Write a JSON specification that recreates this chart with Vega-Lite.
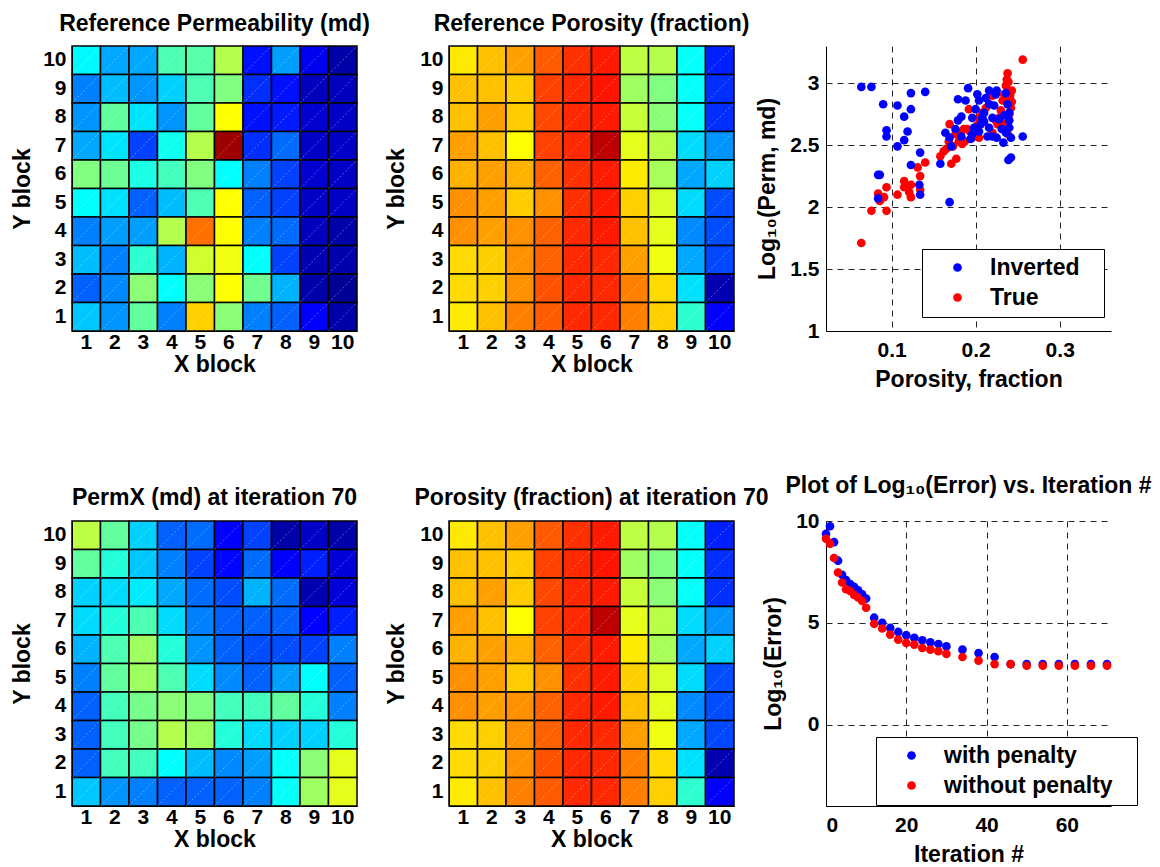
{
  "$schema": "https://vega.github.io/schema/vega-lite/v6.json",
  "background": "white",
  "padding": {"left": 11, "top": 13, "right": 0, "bottom": 0},
  "columns": 3,
  "bounds": "flush",
  "spacing": {"row": 190, "column": 92},
  "resolve": {"scale": {"color": "independent"}, "legend": {"color": "independent"}},
  "config": {
    "view": {"stroke": null},
    "font": "Liberation Sans",
    "title": {"font": "Liberation Sans", "fontSize": 23, "fontWeight": "bold", "color": "black", "offset": 9},
    "axis": {
      "labelFont": "Liberation Sans", "labelFontSize": 21, "labelFontWeight": "bold", "labelColor": "black",
      "titleFont": "Liberation Sans", "titleFontSize": 23, "titleFontWeight": "bold", "titleColor": "black",
      "ticks": false, "domain": true, "domainColor": "black", "domainWidth": 1
    },
    "legend": {
      "labelFont": "Liberation Sans", "labelFontSize": 23, "labelFontWeight": "bold", "labelColor": "black", "labelLimit": 400
    }
  },
  "datasets": {
    "permRef": [
      {"x":1,"y":10,"v":0.37},{"x":2,"y":10,"v":0.29},{"x":3,"y":10,"v":0.29},{"x":4,"y":10,"v":0.45},{"x":5,"y":10,"v":0.46},{"x":6,"y":10,"v":0.55},{"x":7,"y":10,"v":0.14},{"x":8,"y":10,"v":0.28},{"x":9,"y":10,"v":0.11},{"x":10,"y":10,"v":0.04},
      {"x":1,"y":9,"v":0.25},{"x":2,"y":9,"v":0.31},{"x":3,"y":9,"v":0.27},{"x":4,"y":9,"v":0.33},{"x":5,"y":9,"v":0.45},{"x":6,"y":9,"v":0.5},{"x":7,"y":9,"v":0.17},{"x":8,"y":9,"v":0.14},{"x":9,"y":9,"v":0.06},{"x":10,"y":9,"v":0.06},
      {"x":1,"y":8,"v":0.27},{"x":2,"y":8,"v":0.47},{"x":3,"y":8,"v":0.35},{"x":4,"y":8,"v":0.27},{"x":5,"y":8,"v":0.47},{"x":6,"y":8,"v":0.625},{"x":7,"y":8,"v":0.14},{"x":8,"y":8,"v":0.15},{"x":9,"y":8,"v":0.08},{"x":10,"y":8,"v":0.07},
      {"x":1,"y":7,"v":0.29},{"x":2,"y":7,"v":0.35},{"x":3,"y":7,"v":0.19},{"x":4,"y":7,"v":0.39},{"x":5,"y":7,"v":0.55},{"x":6,"y":7,"v":0.97},{"x":7,"y":7,"v":0.17},{"x":8,"y":7,"v":0.23},{"x":9,"y":7,"v":0.07},{"x":10,"y":7,"v":0.07},
      {"x":1,"y":6,"v":0.5},{"x":2,"y":6,"v":0.48},{"x":3,"y":6,"v":0.4},{"x":4,"y":6,"v":0.44},{"x":5,"y":6,"v":0.5},{"x":6,"y":6,"v":0.375},{"x":7,"y":6,"v":0.25},{"x":8,"y":6,"v":0.19},{"x":9,"y":6,"v":0.08},{"x":10,"y":6,"v":0.07},
      {"x":1,"y":5,"v":0.375},{"x":2,"y":5,"v":0.345},{"x":3,"y":5,"v":0.22},{"x":4,"y":5,"v":0.31},{"x":5,"y":5,"v":0.45},{"x":6,"y":5,"v":0.625},{"x":7,"y":5,"v":0.22},{"x":8,"y":5,"v":0.19},{"x":9,"y":5,"v":0.07},{"x":10,"y":5,"v":0.07},
      {"x":1,"y":4,"v":0.25},{"x":2,"y":4,"v":0.28},{"x":3,"y":4,"v":0.28},{"x":4,"y":4,"v":0.55},{"x":5,"y":4,"v":0.765},{"x":6,"y":4,"v":0.625},{"x":7,"y":4,"v":0.25},{"x":8,"y":4,"v":0.23},{"x":9,"y":4,"v":0.06},{"x":10,"y":4,"v":0.04},
      {"x":1,"y":3,"v":0.31},{"x":2,"y":3,"v":0.25},{"x":3,"y":3,"v":0.42},{"x":4,"y":3,"v":0.3},{"x":5,"y":3,"v":0.58},{"x":6,"y":3,"v":0.61},{"x":7,"y":3,"v":0.375},{"x":8,"y":3,"v":0.19},{"x":9,"y":3,"v":0.05},{"x":10,"y":3,"v":0.045},
      {"x":1,"y":2,"v":0.22},{"x":2,"y":2,"v":0.26},{"x":3,"y":2,"v":0.51},{"x":4,"y":2,"v":0.375},{"x":5,"y":2,"v":0.51},{"x":6,"y":2,"v":0.625},{"x":7,"y":2,"v":0.485},{"x":8,"y":2,"v":0.3},{"x":9,"y":2,"v":0.04},{"x":10,"y":2,"v":0.02},
      {"x":1,"y":1,"v":0.32},{"x":2,"y":1,"v":0.27},{"x":3,"y":1,"v":0.47},{"x":4,"y":1,"v":0.25},{"x":5,"y":1,"v":0.67},{"x":6,"y":1,"v":0.51},{"x":7,"y":1,"v":0.25},{"x":8,"y":1,"v":0.22},{"x":9,"y":1,"v":0.12},{"x":10,"y":1,"v":0.04}
    ],
    "por": [
      {"x":1,"y":10,"v":0.647},{"x":2,"y":10,"v":0.687},{"x":3,"y":10,"v":0.718},{"x":4,"y":10,"v":0.787},{"x":5,"y":10,"v":0.828},{"x":6,"y":10,"v":0.85},{"x":7,"y":10,"v":0.56},{"x":8,"y":10,"v":0.55},{"x":9,"y":10,"v":0.38},{"x":10,"y":10,"v":0.155},
      {"x":1,"y":9,"v":0.687},{"x":2,"y":9,"v":0.687},{"x":3,"y":9,"v":0.675},{"x":4,"y":9,"v":0.8125},{"x":5,"y":9,"v":0.836},{"x":6,"y":9,"v":0.855},{"x":7,"y":9,"v":0.53},{"x":8,"y":9,"v":0.5},{"x":9,"y":9,"v":0.38},{"x":10,"y":9,"v":0.17},
      {"x":1,"y":8,"v":0.687},{"x":2,"y":8,"v":0.718},{"x":3,"y":8,"v":0.675},{"x":4,"y":8,"v":0.805},{"x":5,"y":8,"v":0.836},{"x":6,"y":8,"v":0.85},{"x":7,"y":8,"v":0.57},{"x":8,"y":8,"v":0.51},{"x":9,"y":8,"v":0.38},{"x":10,"y":8,"v":0.17},
      {"x":1,"y":7,"v":0.718},{"x":2,"y":7,"v":0.687},{"x":3,"y":7,"v":0.625},{"x":4,"y":7,"v":0.8125},{"x":5,"y":7,"v":0.836},{"x":6,"y":7,"v":0.94},{"x":7,"y":7,"v":0.6},{"x":8,"y":7,"v":0.555},{"x":9,"y":7,"v":0.34},{"x":10,"y":7,"v":0.27},
      {"x":1,"y":6,"v":0.7},{"x":2,"y":6,"v":0.718},{"x":3,"y":6,"v":0.7},{"x":4,"y":6,"v":0.781},{"x":5,"y":6,"v":0.828},{"x":6,"y":6,"v":0.85},{"x":7,"y":6,"v":0.645},{"x":8,"y":6,"v":0.54},{"x":9,"y":6,"v":0.29},{"x":10,"y":6,"v":0.33},
      {"x":1,"y":5,"v":0.734},{"x":2,"y":5,"v":0.718},{"x":3,"y":5,"v":0.675},{"x":4,"y":5,"v":0.734},{"x":5,"y":5,"v":0.828},{"x":6,"y":5,"v":0.85},{"x":7,"y":5,"v":0.671},{"x":8,"y":5,"v":0.59},{"x":9,"y":5,"v":0.34},{"x":10,"y":5,"v":0.2},
      {"x":1,"y":4,"v":0.734},{"x":2,"y":4,"v":0.718},{"x":3,"y":4,"v":0.734},{"x":4,"y":4,"v":0.781},{"x":5,"y":4,"v":0.836},{"x":6,"y":4,"v":0.85},{"x":7,"y":4,"v":0.687},{"x":8,"y":4,"v":0.6},{"x":9,"y":4,"v":0.26},{"x":10,"y":4,"v":0.2},
      {"x":1,"y":3,"v":0.661},{"x":2,"y":3,"v":0.671},{"x":3,"y":3,"v":0.734},{"x":4,"y":3,"v":0.781},{"x":5,"y":3,"v":0.836},{"x":6,"y":3,"v":0.836},{"x":7,"y":3,"v":0.718},{"x":8,"y":3,"v":0.61},{"x":9,"y":3,"v":0.29},{"x":10,"y":3,"v":0.195},
      {"x":1,"y":2,"v":0.661},{"x":2,"y":2,"v":0.671},{"x":3,"y":2,"v":0.734},{"x":4,"y":2,"v":0.796},{"x":5,"y":2,"v":0.836},{"x":6,"y":2,"v":0.836},{"x":7,"y":2,"v":0.75},{"x":8,"y":2,"v":0.661},{"x":9,"y":2,"v":0.345},{"x":10,"y":2,"v":0.05},
      {"x":1,"y":1,"v":0.645},{"x":2,"y":1,"v":0.687},{"x":3,"y":1,"v":0.75},{"x":4,"y":1,"v":0.787},{"x":5,"y":1,"v":0.836},{"x":6,"y":1,"v":0.836},{"x":7,"y":1,"v":0.75},{"x":8,"y":1,"v":0.671},{"x":9,"y":1,"v":0.42},{"x":10,"y":1,"v":0.125}
    ],
    "perm70": [
      {"x":1,"y":10,"v":0.56},{"x":2,"y":10,"v":0.47},{"x":3,"y":10,"v":0.33},{"x":4,"y":10,"v":0.22},{"x":5,"y":10,"v":0.23},{"x":6,"y":10,"v":0.125},{"x":7,"y":10,"v":0.19},{"x":8,"y":10,"v":0.04},{"x":9,"y":10,"v":0.07},{"x":10,"y":10,"v":0.04},
      {"x":1,"y":9,"v":0.47},{"x":2,"y":9,"v":0.41},{"x":3,"y":9,"v":0.32},{"x":4,"y":9,"v":0.25},{"x":5,"y":9,"v":0.19},{"x":6,"y":9,"v":0.13},{"x":7,"y":9,"v":0.23},{"x":8,"y":9,"v":0.125},{"x":9,"y":9,"v":0.155},{"x":10,"y":9,"v":0.09},
      {"x":1,"y":8,"v":0.33},{"x":2,"y":8,"v":0.34},{"x":3,"y":8,"v":0.355},{"x":4,"y":8,"v":0.29},{"x":5,"y":8,"v":0.23},{"x":6,"y":8,"v":0.2},{"x":7,"y":8,"v":0.3},{"x":8,"y":8,"v":0.23},{"x":9,"y":8,"v":0.05},{"x":10,"y":8,"v":0.09},
      {"x":1,"y":7,"v":0.34},{"x":2,"y":7,"v":0.41},{"x":3,"y":7,"v":0.45},{"x":4,"y":7,"v":0.34},{"x":5,"y":7,"v":0.25},{"x":6,"y":7,"v":0.22},{"x":7,"y":7,"v":0.22},{"x":8,"y":7,"v":0.22},{"x":9,"y":7,"v":0.125},{"x":10,"y":7,"v":0.155},
      {"x":1,"y":6,"v":0.3},{"x":2,"y":6,"v":0.45},{"x":3,"y":6,"v":0.53},{"x":4,"y":6,"v":0.41},{"x":5,"y":6,"v":0.27},{"x":6,"y":6,"v":0.22},{"x":7,"y":6,"v":0.2},{"x":8,"y":6,"v":0.2},{"x":9,"y":6,"v":0.19},{"x":10,"y":6,"v":0.25},
      {"x":1,"y":5,"v":0.25},{"x":2,"y":5,"v":0.47},{"x":3,"y":5,"v":0.53},{"x":4,"y":5,"v":0.45},{"x":5,"y":5,"v":0.34},{"x":6,"y":5,"v":0.26},{"x":7,"y":5,"v":0.22},{"x":8,"y":5,"v":0.28},{"x":9,"y":5,"v":0.375},{"x":10,"y":5,"v":0.22},
      {"x":1,"y":4,"v":0.22},{"x":2,"y":4,"v":0.44},{"x":3,"y":4,"v":0.49},{"x":4,"y":4,"v":0.51},{"x":5,"y":4,"v":0.5},{"x":6,"y":4,"v":0.44},{"x":7,"y":4,"v":0.44},{"x":8,"y":4,"v":0.47},{"x":9,"y":4,"v":0.41},{"x":10,"y":4,"v":0.25},
      {"x":1,"y":3,"v":0.22},{"x":2,"y":3,"v":0.44},{"x":3,"y":3,"v":0.49},{"x":4,"y":3,"v":0.55},{"x":5,"y":3,"v":0.53},{"x":6,"y":3,"v":0.41},{"x":7,"y":3,"v":0.34},{"x":8,"y":3,"v":0.33},{"x":9,"y":3,"v":0.33},{"x":10,"y":3,"v":0.41},
      {"x":1,"y":2,"v":0.22},{"x":2,"y":2,"v":0.44},{"x":3,"y":2,"v":0.44},{"x":4,"y":2,"v":0.375},{"x":5,"y":2,"v":0.31},{"x":6,"y":2,"v":0.26},{"x":7,"y":2,"v":0.28},{"x":8,"y":2,"v":0.38},{"x":9,"y":2,"v":0.51},{"x":10,"y":2,"v":0.6},
      {"x":1,"y":1,"v":0.32},{"x":2,"y":1,"v":0.27},{"x":3,"y":1,"v":0.25},{"x":4,"y":1,"v":0.22},{"x":5,"y":1,"v":0.22},{"x":6,"y":1,"v":0.22},{"x":7,"y":1,"v":0.25},{"x":8,"y":1,"v":0.38},{"x":9,"y":1,"v":0.53},{"x":10,"y":1,"v":0.6}
    ],
    "cross": [
      {"phi":0.064,"logk":1.71,"series":"True"},{"phi":0.076,"logk":1.97,"series":"True"},{"phi":0.094,"logk":1.97,"series":"True"},{"phi":0.084,"logk":2.11,"series":"True"},{"phi":0.086,"logk":2.05,"series":"True"},{"phi":0.091,"logk":2.08,"series":"True"},{"phi":0.094,"logk":2.16,"series":"True"},{"phi":0.107,"logk":2.10,"series":"True"},{"phi":0.115,"logk":2.21,"series":"True"},{"phi":0.115,"logk":2.16,"series":"True"},{"phi":0.119,"logk":2.17,"series":"True"},{"phi":0.123,"logk":2.18,"series":"True"},{"phi":0.123,"logk":2.08,"series":"True"},{"phi":0.121,"logk":2.12,"series":"True"},{"phi":0.134,"logk":2.14,"series":"True"},{"phi":0.134,"logk":2.25,"series":"True"},{"phi":0.131,"logk":2.32,"series":"True"},{"phi":0.140,"logk":2.36,"series":"True"},{"phi":0.158,"logk":2.41,"series":"True"},{"phi":0.162,"logk":2.45,"series":"True"},{"phi":0.165,"logk":2.47,"series":"True"},{"phi":0.173,"logk":2.49,"series":"True"},{"phi":0.169,"logk":2.67,"series":"True"},{"phi":0.171,"logk":2.35,"series":"True"},{"phi":0.177,"logk":2.39,"series":"True"},{"phi":0.168,"logk":2.53,"series":"True"},{"phi":0.176,"logk":2.59,"series":"True"},{"phi":0.180,"logk":2.53,"series":"True"},{"phi":0.184,"logk":2.51,"series":"True"},{"phi":0.187,"logk":2.53,"series":"True"},{"phi":0.182,"logk":2.60,"series":"True"},{"phi":0.186,"logk":2.63,"series":"True"},{"phi":0.190,"logk":2.63,"series":"True"},{"phi":0.193,"logk":2.61,"series":"True"},{"phi":0.196,"logk":2.56,"series":"True"},{"phi":0.200,"logk":2.60,"series":"True"},{"phi":0.202,"logk":2.66,"series":"True"},{"phi":0.192,"logk":2.79,"series":"True"},{"phi":0.204,"logk":2.72,"series":"True"},{"phi":0.208,"logk":2.76,"series":"True"},{"phi":0.212,"logk":2.80,"series":"True"},{"phi":0.216,"logk":2.83,"series":"True"},{"phi":0.220,"logk":2.90,"series":"True"},{"phi":0.224,"logk":2.70,"series":"True"},{"phi":0.226,"logk":2.67,"series":"True"},{"phi":0.228,"logk":2.72,"series":"True"},{"phi":0.230,"logk":2.78,"series":"True"},{"phi":0.232,"logk":2.86,"series":"True"},{"phi":0.234,"logk":2.91,"series":"True"},{"phi":0.236,"logk":2.98,"series":"True"},{"phi":0.237,"logk":3.03,"series":"True"},{"phi":0.238,"logk":3.08,"series":"True"},{"phi":0.239,"logk":3.01,"series":"True"},{"phi":0.241,"logk":2.90,"series":"True"},{"phi":0.242,"logk":2.80,"series":"True"},{"phi":0.243,"logk":2.94,"series":"True"},{"phi":0.243,"logk":2.85,"series":"True"},{"phi":0.240,"logk":2.75,"series":"True"},{"phi":0.236,"logk":2.88,"series":"True"},{"phi":0.256,"logk":3.19,"series":"True"},{"phi":0.234,"logk":2.67,"series":"True"},{"phi":0.238,"logk":2.59,"series":"True"},{"phi":0.220,"logk":2.60,"series":"True"},{"phi":0.204,"logk":2.56,"series":"True"},
      {"phi":0.064,"logk":2.97,"series":"Inverted"},{"phi":0.076,"logk":2.97,"series":"Inverted"},{"phi":0.090,"logk":2.83,"series":"Inverted"},{"phi":0.107,"logk":2.82,"series":"Inverted"},{"phi":0.123,"logk":2.92,"series":"Inverted"},{"phi":0.140,"logk":2.93,"series":"Inverted"},{"phi":0.115,"logk":2.73,"series":"Inverted"},{"phi":0.123,"logk":2.79,"series":"Inverted"},{"phi":0.094,"logk":2.62,"series":"Inverted"},{"phi":0.094,"logk":2.57,"series":"Inverted"},{"phi":0.119,"logk":2.61,"series":"Inverted"},{"phi":0.115,"logk":2.54,"series":"Inverted"},{"phi":0.107,"logk":2.49,"series":"Inverted"},{"phi":0.134,"logk":2.44,"series":"Inverted"},{"phi":0.123,"logk":2.34,"series":"Inverted"},{"phi":0.084,"logk":2.26,"series":"Inverted"},{"phi":0.086,"logk":2.26,"series":"Inverted"},{"phi":0.084,"logk":2.07,"series":"Inverted"},{"phi":0.133,"logk":2.18,"series":"Inverted"},{"phi":0.134,"logk":2.10,"series":"Inverted"},{"phi":0.169,"logk":2.04,"series":"Inverted"},{"phi":0.158,"logk":2.35,"series":"Inverted"},{"phi":0.164,"logk":2.60,"series":"Inverted"},{"phi":0.169,"logk":2.56,"series":"Inverted"},{"phi":0.171,"logk":2.49,"series":"Inverted"},{"phi":0.176,"logk":2.63,"series":"Inverted"},{"phi":0.179,"logk":2.87,"series":"Inverted"},{"phi":0.188,"logk":2.86,"series":"Inverted"},{"phi":0.179,"logk":2.70,"series":"Inverted"},{"phi":0.183,"logk":2.73,"series":"Inverted"},{"phi":0.183,"logk":2.57,"series":"Inverted"},{"phi":0.191,"logk":2.96,"series":"Inverted"},{"phi":0.194,"logk":2.55,"series":"Inverted"},{"phi":0.196,"logk":2.59,"series":"Inverted"},{"phi":0.196,"logk":2.72,"series":"Inverted"},{"phi":0.200,"logk":2.79,"series":"Inverted"},{"phi":0.202,"logk":2.91,"series":"Inverted"},{"phi":0.204,"logk":2.86,"series":"Inverted"},{"phi":0.206,"logk":2.67,"series":"Inverted"},{"phi":0.208,"logk":2.72,"series":"Inverted"},{"phi":0.210,"logk":2.76,"series":"Inverted"},{"phi":0.212,"logk":2.88,"series":"Inverted"},{"phi":0.216,"logk":2.64,"series":"Inverted"},{"phi":0.216,"logk":2.83,"series":"Inverted"},{"phi":0.214,"logk":2.57,"series":"Inverted"},{"phi":0.220,"logk":2.57,"series":"Inverted"},{"phi":0.224,"logk":2.91,"series":"Inverted"},{"phi":0.225,"logk":2.56,"series":"Inverted"},{"phi":0.222,"logk":2.82,"series":"Inverted"},{"phi":0.228,"logk":2.71,"series":"Inverted"},{"phi":0.231,"logk":2.63,"series":"Inverted"},{"phi":0.233,"logk":2.52,"series":"Inverted"},{"phi":0.236,"logk":2.92,"series":"Inverted"},{"phi":0.238,"logk":2.83,"series":"Inverted"},{"phi":0.240,"logk":2.64,"series":"Inverted"},{"phi":0.240,"logk":2.70,"series":"Inverted"},{"phi":0.236,"logk":2.60,"series":"Inverted"},{"phi":0.239,"logk":2.38,"series":"Inverted"},{"phi":0.242,"logk":2.40,"series":"Inverted"},{"phi":0.242,"logk":2.56,"series":"Inverted"},{"phi":0.240,"logk":2.76,"series":"Inverted"},{"phi":0.234,"logk":2.74,"series":"Inverted"},{"phi":0.204,"logk":2.61,"series":"Inverted"},{"phi":0.198,"logk":2.64,"series":"Inverted"},{"phi":0.210,"logk":2.69,"series":"Inverted"},{"phi":0.220,"logk":2.72,"series":"Inverted"},{"phi":0.256,"logk":2.57,"series":"Inverted"},{"phi":0.225,"logk":2.94,"series":"Inverted"},{"phi":0.216,"logk":2.94,"series":"Inverted"}
    ],
    "err": [
      {"iter":0,"logerr":9.37,"series":"with penalty"},{"iter":1,"logerr":9.74,"series":"with penalty"},{"iter":2,"logerr":8.96,"series":"with penalty"},{"iter":3,"logerr":8.05,"series":"with penalty"},{"iter":4,"logerr":7.36,"series":"with penalty"},{"iter":5,"logerr":7.1,"series":"with penalty"},{"iter":6,"logerr":6.9,"series":"with penalty"},{"iter":7,"logerr":6.77,"series":"with penalty"},{"iter":8,"logerr":6.6,"series":"with penalty"},{"iter":9,"logerr":6.4,"series":"with penalty"},{"iter":10,"logerr":6.19,"series":"with penalty"},{"iter":12,"logerr":5.25,"series":"with penalty"},{"iter":14,"logerr":5.0,"series":"with penalty"},{"iter":16,"logerr":4.75,"series":"with penalty"},{"iter":18,"logerr":4.55,"series":"with penalty"},{"iter":20,"logerr":4.39,"series":"with penalty"},{"iter":22,"logerr":4.26,"series":"with penalty"},{"iter":24,"logerr":4.14,"series":"with penalty"},{"iter":26,"logerr":4.04,"series":"with penalty"},{"iter":28,"logerr":3.96,"series":"with penalty"},{"iter":30,"logerr":3.84,"series":"with penalty"},{"iter":34,"logerr":3.68,"series":"with penalty"},{"iter":38,"logerr":3.51,"series":"with penalty"},{"iter":42,"logerr":3.32,"series":"with penalty"},{"iter":46,"logerr":2.97,"series":"with penalty"},{"iter":50,"logerr":2.97,"series":"with penalty"},{"iter":54,"logerr":2.97,"series":"with penalty"},{"iter":58,"logerr":2.97,"series":"with penalty"},{"iter":62,"logerr":2.97,"series":"with penalty"},{"iter":66,"logerr":2.97,"series":"with penalty"},{"iter":70,"logerr":2.97,"series":"with penalty"},
      {"iter":0,"logerr":9.13,"series":"without penalty"},{"iter":1,"logerr":8.88,"series":"without penalty"},{"iter":2,"logerr":8.18,"series":"without penalty"},{"iter":3,"logerr":7.47,"series":"without penalty"},{"iter":4,"logerr":6.98,"series":"without penalty"},{"iter":5,"logerr":6.65,"series":"without penalty"},{"iter":6,"logerr":6.56,"series":"without penalty"},{"iter":7,"logerr":6.37,"series":"without penalty"},{"iter":8,"logerr":6.24,"series":"without penalty"},{"iter":9,"logerr":6.07,"series":"without penalty"},{"iter":10,"logerr":5.74,"series":"without penalty"},{"iter":12,"logerr":4.95,"series":"without penalty"},{"iter":14,"logerr":4.72,"series":"without penalty"},{"iter":16,"logerr":4.42,"series":"without penalty"},{"iter":18,"logerr":4.17,"series":"without penalty"},{"iter":20,"logerr":4.01,"series":"without penalty"},{"iter":22,"logerr":3.93,"series":"without penalty"},{"iter":24,"logerr":3.76,"series":"without penalty"},{"iter":26,"logerr":3.68,"series":"without penalty"},{"iter":28,"logerr":3.6,"series":"without penalty"},{"iter":30,"logerr":3.47,"series":"without penalty"},{"iter":34,"logerr":3.32,"series":"without penalty"},{"iter":38,"logerr":3.14,"series":"without penalty"},{"iter":42,"logerr":2.97,"series":"without penalty"},{"iter":46,"logerr":2.97,"series":"without penalty"},{"iter":50,"logerr":2.89,"series":"without penalty"},{"iter":54,"logerr":2.89,"series":"without penalty"},{"iter":58,"logerr":2.89,"series":"without penalty"},{"iter":62,"logerr":2.89,"series":"without penalty"},{"iter":66,"logerr":2.89,"series":"without penalty"},{"iter":70,"logerr":2.89,"series":"without penalty"}
    ]
  },
  "concat": [
    {
      "width": 285, "height": 285,
      "title": {"text": "Reference Permeability (md)"},
      "data": {"name": "permRef"},
      "encoding": {
        "x": {"field": "x", "type": "ordinal", "scale": {"paddingInner": 0, "paddingOuter": 0}, "axis": {"title": "X block", "labelAngle": 0, "labelPadding": 0, "titlePadding": 1}},
        "y": {"field": "y", "type": "ordinal", "sort": "descending", "scale": {"paddingInner": 0, "paddingOuter": 0}, "axis": {"title": "Y block", "labelPadding": 6, "titlePadding": 8}}
      },
      "layer": [
        {
          "mark": {"type": "rect", "stroke": "black", "strokeWidth": 1.5},
          "encoding": {
            "color": {"field": "v", "type": "quantitative", "legend": null, "scale": {"domain": [0, 0.125, 0.375, 0.625, 0.875, 1], "range": ["#000080", "#0000ff", "#00ffff", "#ffff00", "#ff0000", "#800000"], "interpolate": "rgb"}}
          }
        },
        {
          "mark": {"type": "rule", "color": "white", "strokeWidth": 1, "opacity": 0.35, "strokeDash": [2, 2]},
          "encoding": {
            "x": {"field": "x", "type": "ordinal", "bandPosition": 0},
            "x2": {"field": "x", "bandPosition": 1},
            "y": {"field": "y", "type": "ordinal", "sort": "descending", "bandPosition": 1},
            "y2": {"field": "y", "bandPosition": 0}
          }
        }
      ]
    },
    {
      "width": 285, "height": 285,
      "title": {"text": "Reference Porosity (fraction)"},
      "data": {"name": "por"},
      "encoding": {
        "x": {"field": "x", "type": "ordinal", "scale": {"paddingInner": 0, "paddingOuter": 0}, "axis": {"title": "X block", "labelAngle": 0, "labelPadding": 0, "titlePadding": 1}},
        "y": {"field": "y", "type": "ordinal", "sort": "descending", "scale": {"paddingInner": 0, "paddingOuter": 0}, "axis": {"title": "Y block", "labelPadding": 6, "titlePadding": 11}}
      },
      "layer": [
        {
          "mark": {"type": "rect", "stroke": "black", "strokeWidth": 1.5},
          "encoding": {
            "color": {"field": "v", "type": "quantitative", "legend": null, "scale": {"domain": [0, 0.125, 0.375, 0.625, 0.875, 1], "range": ["#000080", "#0000ff", "#00ffff", "#ffff00", "#ff0000", "#800000"], "interpolate": "rgb"}}
          }
        },
        {
          "mark": {"type": "rule", "color": "white", "strokeWidth": 1, "opacity": 0.35, "strokeDash": [2, 2]},
          "encoding": {
            "x": {"field": "x", "type": "ordinal", "bandPosition": 0},
            "x2": {"field": "x", "bandPosition": 1},
            "y": {"field": "y", "type": "ordinal", "sort": "descending", "bandPosition": 1},
            "y2": {"field": "y", "bandPosition": 0}
          }
        }
      ]
    },
    {
      "width": 285, "height": 285,
      "data": {"name": "cross"},
      "mark": {"type": "point", "filled": true, "size": 75, "opacity": 1},
      "encoding": {
        "x": {"field": "phi", "type": "quantitative", "scale": {"domain": [0.022, 0.361], "nice": false, "zero": false}, "axis": {"title": "Porosity, fraction", "values": [0.1, 0.2, 0.3], "format": ".1f", "labelPadding": 8, "titlePadding": 8, "grid": true, "gridDash": [6, 5], "gridColor": "black", "gridOpacity": 0.85}},
        "y": {"field": "logk", "type": "quantitative", "scale": {"domain": [1, 3.3], "nice": false, "zero": false}, "axis": {"title": "Log₁₀(Perm, md)", "values": [1, 1.5, 2, 2.5, 3], "format": "~g", "labelPadding": 7, "titlePadding": 10, "grid": true, "gridDash": [6, 5], "gridColor": "black", "gridOpacity": 0.85}},
        "color": {"field": "series", "type": "nominal", "scale": {"domain": ["Inverted", "True"], "range": ["#0000ff", "#ff0000"]},
          "legend": {"title": null, "orient": "none", "legendX": 96, "legendY": 203, "padding": 7, "rowPadding": 6, "symbolType": "circle", "symbolSize": 75, "symbolOffset": 17, "labelOffset": 21, "labelExpr": "datum.label + '\u2800'", "strokeColor": "black", "fillColor": "white", "cornerRadius": 0}}
      }
    },
    {
      "width": 285, "height": 285,
      "title": {"text": "PermX (md) at iteration 70", "offset": 10},
      "data": {"name": "perm70"},
      "encoding": {
        "x": {"field": "x", "type": "ordinal", "scale": {"paddingInner": 0, "paddingOuter": 0}, "axis": {"title": "X block", "labelAngle": 0, "labelPadding": 0, "titlePadding": 1}},
        "y": {"field": "y", "type": "ordinal", "sort": "descending", "scale": {"paddingInner": 0, "paddingOuter": 0}, "axis": {"title": "Y block", "labelPadding": 6, "titlePadding": 8}}
      },
      "layer": [
        {
          "mark": {"type": "rect", "stroke": "black", "strokeWidth": 1.5},
          "encoding": {
            "color": {"field": "v", "type": "quantitative", "legend": null, "scale": {"domain": [0, 0.125, 0.375, 0.625, 0.875, 1], "range": ["#000080", "#0000ff", "#00ffff", "#ffff00", "#ff0000", "#800000"], "interpolate": "rgb"}}
          }
        },
        {
          "mark": {"type": "rule", "color": "white", "strokeWidth": 1, "opacity": 0.35, "strokeDash": [2, 2]},
          "encoding": {
            "x": {"field": "x", "type": "ordinal", "bandPosition": 0},
            "x2": {"field": "x", "bandPosition": 1},
            "y": {"field": "y", "type": "ordinal", "sort": "descending", "bandPosition": 1},
            "y2": {"field": "y", "bandPosition": 0}
          }
        }
      ]
    },
    {
      "width": 285, "height": 285,
      "title": {"text": "Porosity (fraction) at iteration 70", "offset": 10},
      "data": {"name": "por"},
      "encoding": {
        "x": {"field": "x", "type": "ordinal", "scale": {"paddingInner": 0, "paddingOuter": 0}, "axis": {"title": "X block", "labelAngle": 0, "labelPadding": 0, "titlePadding": 1}},
        "y": {"field": "y", "type": "ordinal", "sort": "descending", "scale": {"paddingInner": 0, "paddingOuter": 0}, "axis": {"title": "Y block", "labelPadding": 6, "titlePadding": 11}}
      },
      "layer": [
        {
          "mark": {"type": "rect", "stroke": "black", "strokeWidth": 1.5},
          "encoding": {
            "color": {"field": "v", "type": "quantitative", "legend": null, "scale": {"domain": [0, 0.125, 0.375, 0.625, 0.875, 1], "range": ["#000080", "#0000ff", "#00ffff", "#ffff00", "#ff0000", "#800000"], "interpolate": "rgb"}}
          }
        },
        {
          "mark": {"type": "rule", "color": "white", "strokeWidth": 1, "opacity": 0.35, "strokeDash": [2, 2]},
          "encoding": {
            "x": {"field": "x", "type": "ordinal", "bandPosition": 0},
            "x2": {"field": "x", "bandPosition": 1},
            "y": {"field": "y", "type": "ordinal", "sort": "descending", "bandPosition": 1},
            "y2": {"field": "y", "bandPosition": 0}
          }
        }
      ]
    },
    {
      "width": 285, "height": 285,
      "title": {"text": "Plot of Log₁₀(Error) vs. Iteration #", "offset": 12},
      "data": {"name": "err"},
      "mark": {"type": "point", "filled": true, "size": 75, "opacity": 1},
      "encoding": {
        "x": {"field": "iter", "type": "quantitative", "scale": {"domain": [0, 71], "nice": false, "zero": false}, "axis": {"title": "Iteration #", "values": [0, 20, 40, 60], "labelPadding": 8, "titlePadding": 8, "grid": true, "gridDash": [6, 5], "gridColor": "black", "gridOpacity": 0.85}},
        "y": {"field": "logerr", "type": "quantitative", "scale": {"domain": [-4, 10], "nice": false, "zero": false}, "axis": {"title": "Log₁₀(Error)", "values": [0, 5, 10], "labelPadding": 7, "titlePadding": 10, "grid": true, "gridDash": [6, 5], "gridColor": "black", "gridOpacity": 0.85}},
        "color": {"field": "series", "type": "nominal", "scale": {"domain": ["with penalty", "without penalty"], "range": ["#0000ff", "#ff0000"]},
          "legend": {"title": null, "orient": "none", "legendX": 50, "legendY": 216, "padding": 7, "rowPadding": 6, "symbolType": "circle", "symbolSize": 75, "symbolOffset": 17, "labelOffset": 21, "labelExpr": "datum.label + '\u2800'", "strokeColor": "black", "fillColor": "white", "cornerRadius": 0}}
      }
    }
  ]
}
